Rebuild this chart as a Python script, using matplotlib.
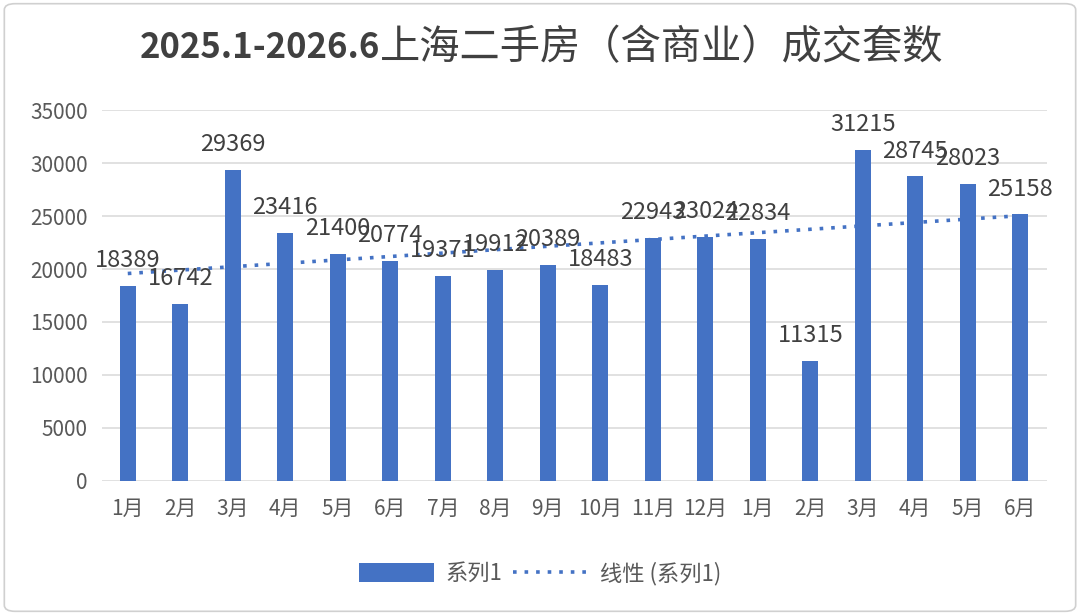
import numpy as np
import matplotlib
matplotlib.use("Agg")
import matplotlib.pyplot as plt
from matplotlib.patches import FancyBboxPatch

plt.rcParams['font.family'] = ['Noto Sans CJK SC', 'DejaVu Sans']

# 月份与成交套数
yue = ["1月", "2月", "3月", "4月", "5月", "6月", "7月", "8月", "9月", "10月", "11月", "12月",
       "1月", "2月", "3月", "4月", "5月", "6月"]
taoshu = [18389, 16742, 29369, 23416, 21400, 20774, 19371, 19912, 20389, 18483, 22943, 23024,
          22834, 11315, 31215, 28745, 28023, 25158]
yticks = [0, 5000, 10000, 15000, 20000, 25000, 30000, 35000]

azul = "#4472C4"

fig = plt.figure(figsize=(10.8, 6.15), dpi=100)
ax = fig.add_axes([0.094, 0.218, 0.875, 0.603])

x = np.arange(len(taoshu))
barras = ax.bar(x, taoshu, width=0.3, color=azul, label="系列1", zorder=2)

# linea de tendencia
k, b = np.polyfit(x, taoshu, 1)
tend, = ax.plot(x, k * x + b, linestyle=(0, (1, 2.2)), color=azul, linewidth=2.6,
                label="线性 (系列1)", zorder=3)

for xi, v in zip(x, taoshu):
    ax.text(xi, v + 1300, str(v), ha="center", va="bottom", fontsize=17,
            color="#404040", zorder=4)

ax.set_xlim(-0.5, len(taoshu) - 0.5)
ax.set_ylim(0, 35000)
ax.set_yticks(yticks)
ax.set_xticks(x)
ax.set_xticklabels(yue)
ax.tick_params(axis="both", length=0, labelsize=15, colors="#595959")
ax.tick_params(axis="x", pad=12)
ax.tick_params(axis="y", pad=10)
ax.grid(axis="y", color="#D9D9D9", linewidth=1.1, zorder=0)
ax.set_axisbelow(True)
for s in ax.spines.values():
    s.set_visible(False)

# titulo: numeros en negrita, chino normal
fig.text(0.352, 0.922, "2025.1-2026.6", ha="right", va="center", fontsize=25,
         fontweight="bold", color="#404040")
fig.text(0.352, 0.922, "上海二手房（含商业）成交套数", ha="left", va="center",
         fontsize=29, color="#404040")

fig.legend([barras, tend], ["系列1", "线性 (系列1)"], loc="center",
           bbox_to_anchor=(0.5, 0.068), ncol=2, frameon=False,
           fontsize=16, labelcolor="#595959", handlelength=3.4, handleheight=0.9,
           columnspacing=0.5, handletextpad=0.5)

borde = FancyBboxPatch((0.004, 0.006), 0.992, 0.988, boxstyle="round,pad=0,rounding_size=0.01",
                       transform=fig.transFigure, facecolor="none", edgecolor="#D0D0D0",
                       linewidth=1.2)
fig.patches.append(borde)

fig.savefig("out.png", dpi=100)
